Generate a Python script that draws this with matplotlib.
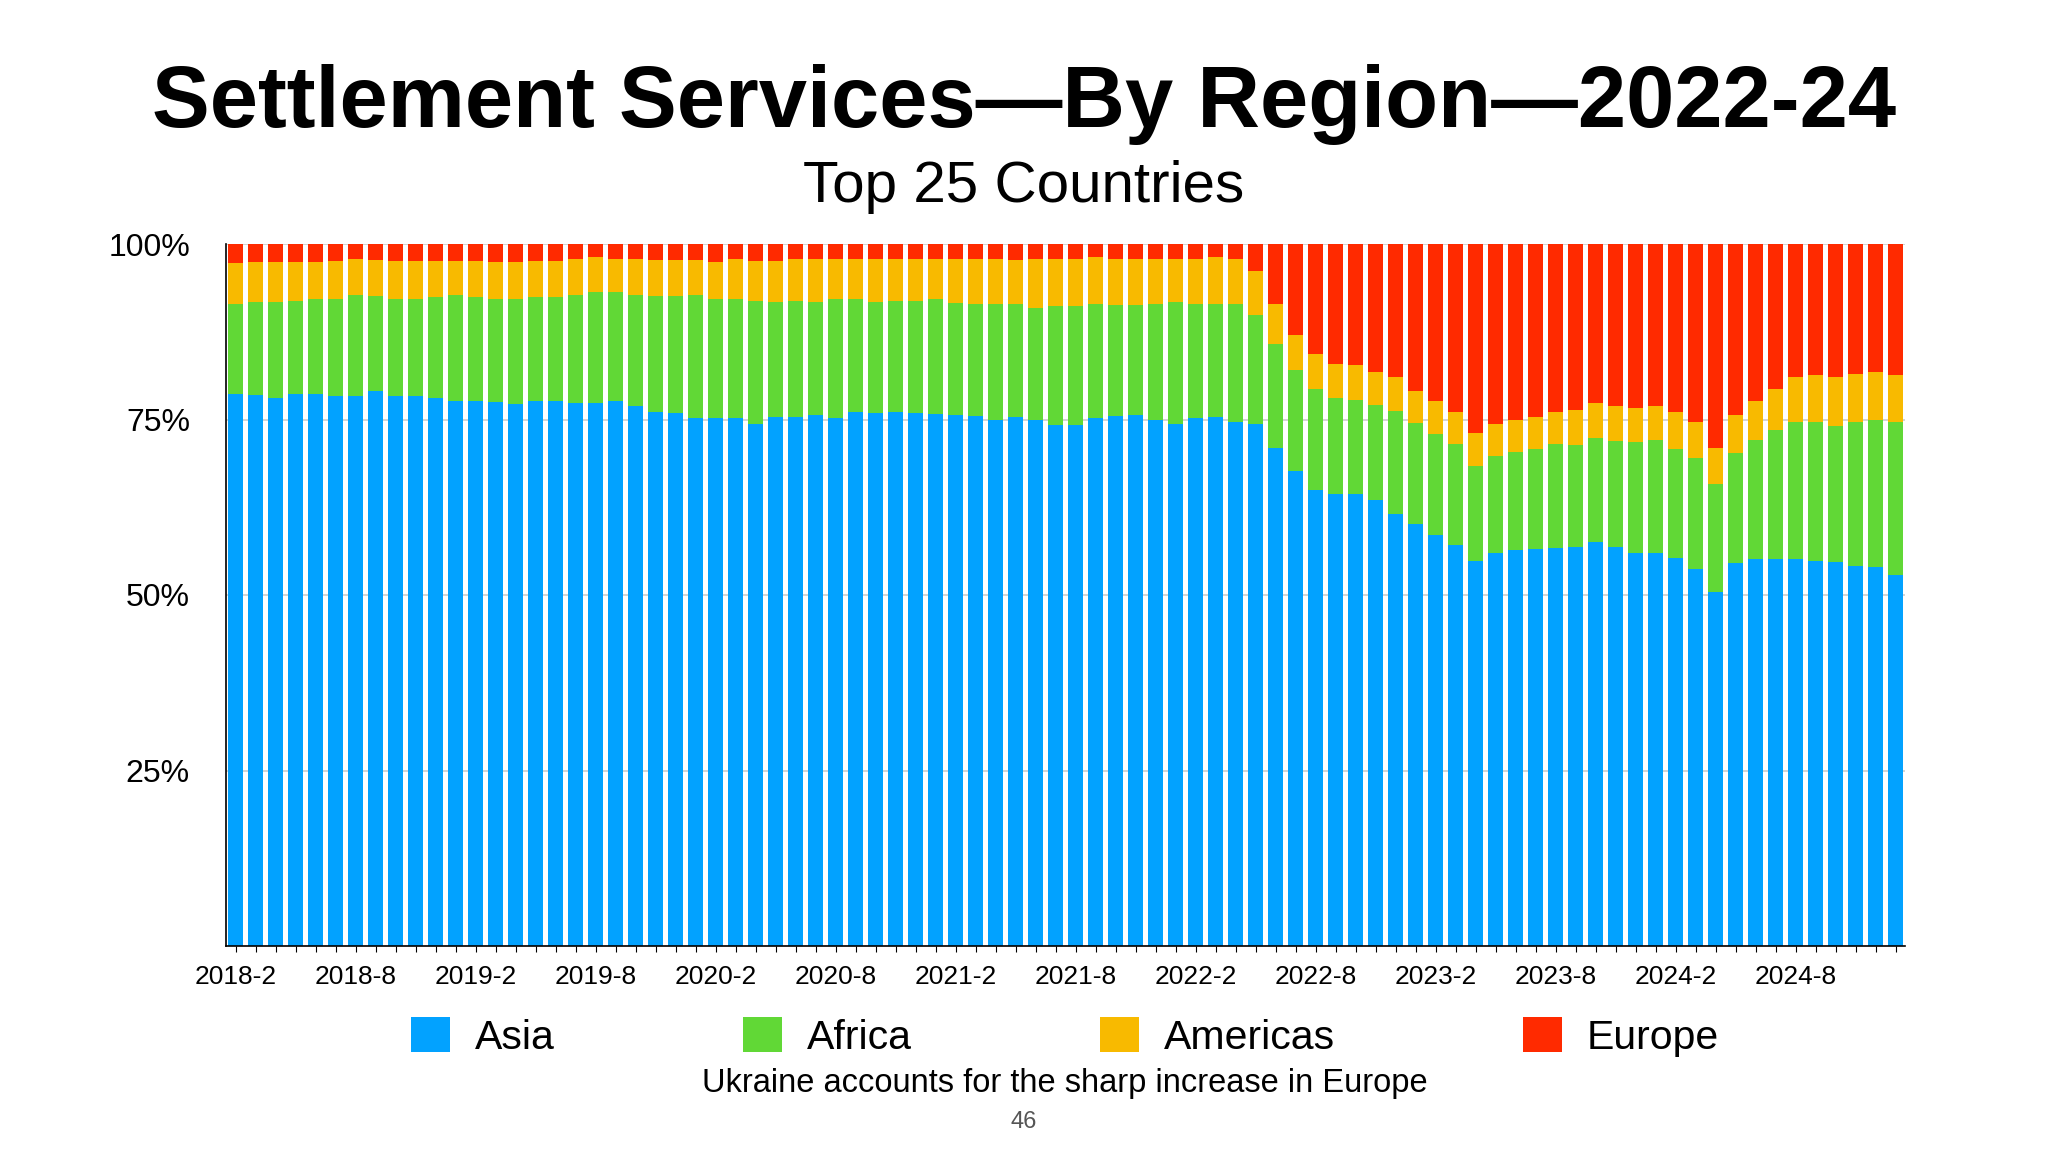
import matplotlib
matplotlib.use("Agg")
import matplotlib.pyplot as plt
import numpy as np

plt.rcParams['font.family'] = ['Liberation Sans', 'DejaVu Sans']

# months 2018-2 .. 2025-1
months = []
for i in range(84):
    m = 2 + i
    months.append(f"{2018 + (m - 1) // 12}-{(m - 1) % 12 + 1}")

# shares in percent
asia = [78.7, 78.5, 78.1, 78.7, 78.7, 78.4, 78.4, 79.0, 78.4, 78.4,
        78.1, 77.6, 77.6, 77.5, 77.2, 77.7, 77.7, 77.4, 77.4, 77.7,
        76.9, 76.1, 75.9, 75.2, 75.2, 75.2, 74.4, 75.3, 75.4, 75.7,
        75.2, 76.1, 75.9, 76.1, 75.9, 75.8, 75.6, 75.5, 74.9, 75.4,
        74.9, 74.2, 74.2, 75.2, 75.5, 75.7, 74.9, 74.3, 75.2, 75.4,
        74.7, 74.3, 70.9, 67.6, 64.9, 64.4, 64.4, 63.6, 61.6, 60.1,
        58.6, 57.1, 54.8, 56.0, 56.4, 56.6, 56.7, 56.9, 57.6, 56.8,
        56.0, 56.0, 55.3, 53.7, 50.4, 54.5, 55.1, 55.1, 55.1, 54.8,
        54.7, 54.2, 54.0, 52.9]
africa = [12.8, 13.2, 13.6, 13.2, 13.4, 13.7, 14.4, 13.6, 13.7, 13.8,
          14.4, 15.2, 14.9, 14.6, 14.9, 14.8, 14.8, 15.4, 15.7, 15.4,
          15.9, 16.5, 16.7, 17.6, 16.9, 16.9, 17.5, 16.4, 16.5, 16.0,
          16.9, 16.0, 15.8, 15.8, 16.0, 16.3, 16.0, 16.0, 16.6, 16.1,
          16.0, 16.9, 16.9, 16.2, 15.8, 15.6, 16.6, 17.5, 16.3, 16.1,
          16.8, 15.6, 14.8, 14.4, 14.5, 13.6, 13.4, 13.5, 14.6, 14.4,
          14.3, 14.4, 13.6, 13.8, 13.9, 14.2, 14.8, 14.5, 14.8, 15.1,
          15.8, 16.1, 15.5, 15.8, 15.4, 15.7, 17.0, 18.4, 19.5, 19.8,
          19.4, 20.4, 20.9, 21.7]
americas = [5.8, 5.7, 5.7, 5.5, 5.3, 5.5, 5.1, 5.1, 5.5, 5.4,
            5.1, 4.8, 5.1, 5.3, 5.3, 5.1, 5.1, 5.1, 5.0, 4.8,
            5.1, 5.1, 5.1, 4.9, 5.4, 5.8, 5.7, 5.9, 5.9, 6.1,
            5.8, 5.8, 6.1, 6.0, 6.0, 5.8, 6.3, 6.4, 6.4, 6.2,
            6.9, 6.7, 6.8, 6.7, 6.6, 6.6, 6.3, 6.1, 6.3, 6.6,
            6.3, 6.2, 5.7, 5.1, 4.9, 4.9, 5.0, 4.6, 4.8, 4.5,
            4.7, 4.6, 4.7, 4.5, 4.6, 4.6, 4.6, 5.0, 5.0, 5.0,
            4.9, 4.8, 5.2, 5.2, 5.2, 5.5, 5.5, 5.9, 6.4, 6.7,
            6.9, 6.9, 6.8, 6.8]
europe = [2.7, 2.6, 2.6, 2.6, 2.6, 2.4, 2.1, 2.3, 2.4, 2.4,
          2.4, 2.4, 2.4, 2.6, 2.6, 2.4, 2.4, 2.1, 1.9, 2.1,
          2.1, 2.3, 2.3, 2.3, 2.5, 2.1, 2.4, 2.4, 2.2, 2.2,
          2.1, 2.1, 2.2, 2.1, 2.1, 2.1, 2.1, 2.1, 2.1, 2.3,
          2.2, 2.2, 2.1, 1.9, 2.1, 2.1, 2.2, 2.1, 2.2, 1.9,
          2.2, 3.9, 8.6, 12.9, 15.7, 17.1, 17.2, 18.3, 19.0, 21.0,
          22.4, 23.9, 26.9, 25.7, 25.1, 24.6, 23.9, 23.6, 22.6, 23.1,
          23.3, 23.1, 24.0, 25.3, 29.0, 24.3, 22.4, 20.6, 19.0, 18.7,
          19.0, 18.5, 18.3, 18.6]

regions = ["Asia", "Africa", "Americas", "Europe"]
colors = ["#02A2FF", "#61D836", "#F8BA00", "#FF2A00"]

fig = plt.figure(figsize=(20.48, 11.52), dpi=100)
ax = fig.add_axes([226 / 2048, 1 - 946 / 1152, 1679 / 2048, 702 / 1152])

x = np.arange(len(months))
bottom = np.zeros(len(months))
for name, vals, c in zip(regions, [asia, africa, americas, europe], colors):
    vals = np.array(vals)
    ax.bar(x, vals, 0.75, bottom=bottom, color=c, label=name, zorder=2)
    bottom += vals

ax.set_xlim(-0.475, len(months) - 0.525)
ax.set_ylim(0, 100)
ax.set_yticks([25, 50, 75, 100])
ax.set_yticklabels(["25%", "50%", "75%", "100%"], fontsize=23)
ax.grid(axis="y", color="#cccccc", linewidth=1.2, zorder=0)
ax.tick_params(axis="y", length=0, pad=26)

ax.set_xticks(x[::6])
ax.set_xticklabels(months[::6], fontsize=19)
ax.set_xticks(x, minor=True)
ax.tick_params(axis="x", which="both", length=4, width=0.8, pad=10)

for s in ["top", "right"]:
    ax.spines[s].set_visible(False)
ax.spines["left"].set_linewidth(1.2)
ax.spines["bottom"].set_linewidth(1.2)

fig.text(0.5, 1 - 127 / 1152, "Settlement Services\u2014By Region\u20142022-24",
         ha="center", va="baseline", fontsize=62.5, fontweight="bold")
fig.text(0.5, 1 - 202 / 1152, "Top 25 Countries",
         ha="center", va="baseline", fontsize=42)

fig.legend(loc="center", bbox_to_anchor=(1065 / 2048, 1 - 1037 / 1152), ncol=4,
           frameon=False, fontsize=29.5, handlelength=0.95, handleheight=0.95,
           handletextpad=0.6, columnspacing=4.6)

fig.text(1065 / 2048, 1 - 1092 / 1152, "Ukraine accounts for the sharp increase in Europe",
         ha="center", va="baseline", fontsize=23.5)
fig.text(0.5, 1 - 1128 / 1152, "46", ha="center", va="baseline",
         fontsize=17, color="#555555")

fig.savefig("out.png", dpi=100)
